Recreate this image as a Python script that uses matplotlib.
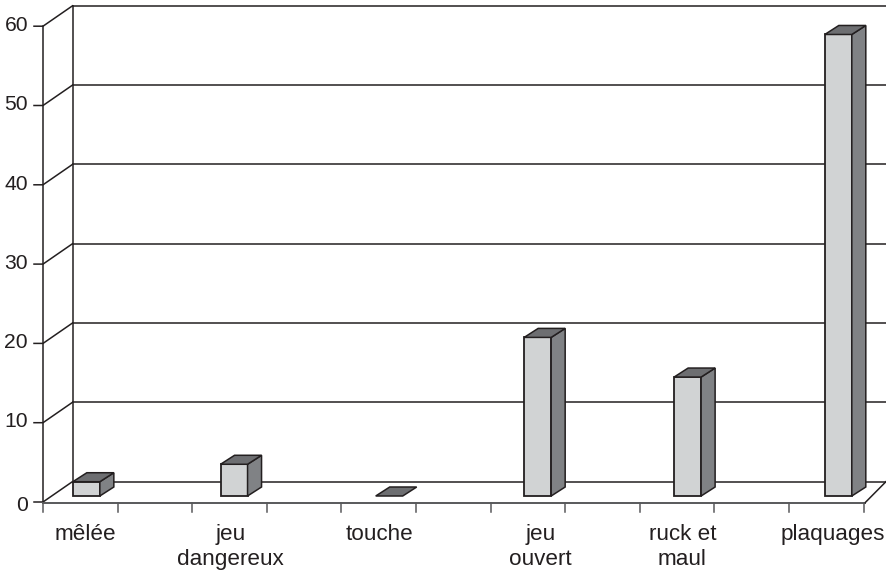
import matplotlib
matplotlib.use("Agg")
import matplotlib.pyplot as plt
from matplotlib.patches import Polygon

categories = ["mêlée", "jeu\ndangereux", "touche", "jeu\nouvert", "ruck et\nmaul", "plaquages"]
values = [1.8, 4, 0, 20, 15, 58.2]
y_ticks = [0, 10, 20, 30, 40, 50, 60]

# layout (pixels of the 886x570 picture)
W, H = 886, 570
X0, CAT_W = 43.0, 149.2          # left end of floor, category width
Y0, PX_PER_UNIT = 502.0, 7.93    # value 0 pixel row, pixels per value unit
bar_x = [0.20, 1.19, 2.23, 3.225, 4.23, 5.24]   # bar left edges, in categories
label_x = [0.285, 1.255, 2.255, 3.335, 4.285, 5.295]  # label centres, in categories
BAR_W = 27 / CAT_W
WALL_DX, WALL_DY = 29.5 / CAT_W, 20.4 / PX_PER_UNIT
DEPTH_DX, DEPTH_DY = 14 / CAT_W, 9 / PX_PER_UNIT
BASE = 6.0 / PX_PER_UNIT  # bar front base sits above the front floor edge

INK = "#231f20"
FRONT, SIDE, TOP = "#d1d3d4", "#808285", "#6d6e71"
LW = 1.1

plt.rcParams["font.family"] = ["Liberation Sans", "DejaVu Sans"]
fig = plt.figure(figsize=(W / 100, H / 100), dpi=100)
ax = fig.add_axes([0, 0, 1, 1])
ax.set_xlim(-X0 / CAT_W, (W - X0) / CAT_W)
ax.set_ylim(-(H - Y0) / PX_PER_UNIT, Y0 / PX_PER_UNIT)
ax.axis("off")
n = len(categories)
x_end = ax.get_xlim()[1]
tick_len_y = 9.5 / PX_PER_UNIT
tick_len_x = 9 / CAT_W

# walls and grid
for v in y_ticks:
    ax.plot([-tick_len_x, 0, WALL_DX], [v, v, v + WALL_DY], color=INK, lw=LW, zorder=1, solid_joinstyle="miter")
    ax.plot([WALL_DX, x_end], [v + WALL_DY, v + WALL_DY], color=INK, lw=LW, zorder=1)
    ax.text(-15 / CAT_W, v + (-0.4 if v == 0 else 0.1), str(v), ha="right", va="center",
            fontsize=15.2, color=INK)
ax.plot([0, 0], [0, 60], color=INK, lw=LW, zorder=1)
ax.plot([WALL_DX, WALL_DX], [WALL_DY, 60 + WALL_DY], color=INK, lw=LW, zorder=1)

# floor
floor_end = 822 / CAT_W
ax.plot([0, floor_end], [-0.1, -0.1], color="#58595b", lw=1.4, zorder=1)
ax.plot([floor_end, floor_end + 21 / CAT_W], [-0.1, WALL_DY], color=INK, lw=LW, zorder=1)
for k in range(2 * n):
    x = k * 0.5
    ax.plot([x, x], [-0.1, -0.1 - tick_len_y], color="#58595b", lw=LW, zorder=1)

# bars
for x, v in zip(bar_x, values):
    b = BASE
    t = BASE + v
    r = x + BAR_W
    if v > 0:
        ax.add_patch(Polygon([(x, b), (r, b), (r, t), (x, t)], closed=True,
                             fc=FRONT, ec=INK, lw=LW + 0.2, zorder=3, joinstyle="miter"))
        ax.add_patch(Polygon([(r, b), (r + DEPTH_DX, b + DEPTH_DY), (r + DEPTH_DX, t + DEPTH_DY), (r, t)],
                             closed=True, fc=SIDE, ec=INK, lw=LW, zorder=3, joinstyle="miter"))
    ax.add_patch(Polygon([(x, t), (r, t), (r + DEPTH_DX, t + DEPTH_DY), (x + DEPTH_DX, t + DEPTH_DY)],
                         closed=True, fc=TOP, ec=INK, lw=LW, zorder=3, joinstyle="miter"))

# category labels
label_top = -(524 - Y0) / PX_PER_UNIT
for x, c in zip(label_x, categories):
    ax.text(x, label_top, c, ha="center", va="top", fontsize=16.2, color=INK, linespacing=1.22)

fig.savefig("out.png", dpi=100)
